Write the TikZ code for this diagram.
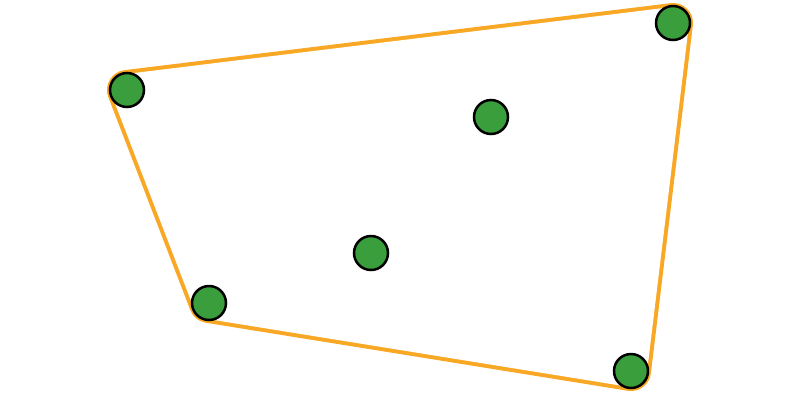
\documentclass[tikz,border=0pt]{standalone}
\begin{document}
\begin{tikzpicture}[x=1pt,y=-1pt,
  pt/.style={circle,draw=black,line width=2.5pt,fill=ptgreen,minimum size=34pt,inner sep=0pt}]
\definecolor{ptgreen}{HTML}{3A9E3D}
\definecolor{hullor}{HTML}{F9A825}
\useasboundingbox (0,0) rectangle (800,400);
\coordinate (a) at (127,90);
\coordinate (b) at (673,23);
\coordinate (c) at (631,371);
\coordinate (d) at (209,303);
\coordinate (e) at (491,117);
\coordinate (f) at (371,253);
\draw[hullor,line width=40pt,line join=round] (a)--(b)--(c)--(d)--cycle;
\draw[white,fill=white,line width=32pt,line join=round] (a)--(b)--(c)--(d)--cycle;
\foreach \n in {a,b,c,d,e,f} \node[pt] (n\n) at (\n) {};
\end{tikzpicture}
\end{document}
